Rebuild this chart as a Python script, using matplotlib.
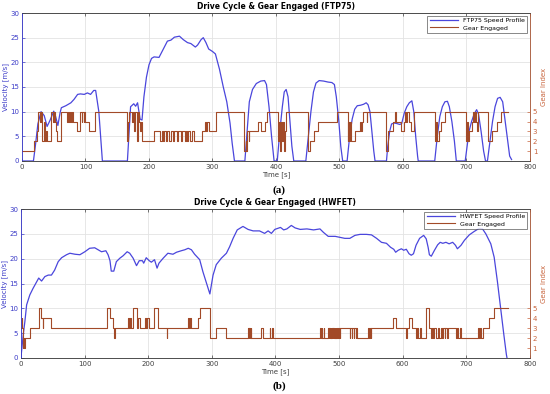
import matplotlib.pyplot as plt

# ---- FTP75 speed profile (time [s], velocity [m/s]) ----
ftp_time = [0, 18, 21, 25, 30, 35, 39.5, 44, 50, 53, 56.5, 60, 62, 69, 77, 82, 87.6, 92, 98, 103,
            108, 113, 116, 121, 126.6,
            166, 171, 176, 179, 182, 186, 189, 192, 196, 200, 204, 208, 215.8, 221, 229, 234.5,
            240, 248, 254, 260.6, 266, 273, 276.5, 282, 285.5, 289.7, 294, 300, 304.6, 311, 317,
            322.5, 327.6, 331, 334.6,
            351, 355, 358, 363, 369, 376, 382, 385, 389, 393, 397,
            402, 406, 410, 413, 416, 419, 422, 425, 428,
            447, 451, 455, 459, 463, 468, 475, 482, 488, 492, 495, 499, 502, 505,
            512, 516, 520, 524, 528, 533, 538, 542, 545, 548, 551, 554, 556,
            574, 576, 579, 582, 586, 590, 595, 598, 602, 606, 610, 614, 617, 620, 623, 624,
            650, 654, 658, 662, 666, 670, 673, 677, 681, 684,
            698, 701, 704, 708, 712, 716, 719, 723, 727, 730,
            733, 737, 741, 745, 749, 753, 757, 761, 765, 768, 771]
ftp_speed = [0, 0, 3, 7.5, 10, 9.2, 7, 8.2, 10.1, 9.0, 7.2, 9.8, 10.8, 11.2, 11.8, 12.5, 13.5, 13.6,
             13.5, 13.8, 13.5, 14.3, 14.3, 10, 0,
             0, 11, 11.6, 11.1, 11.8, 8.5, 8.3, 13, 17, 19.5, 20.8, 21.1, 21, 22.3, 24.3, 24.5,
             25.1, 25.3, 24.6, 24, 23.8, 23.1, 23.5, 24.6, 25, 24, 22.7, 22.2, 21.7, 18.6, 15,
             12, 7.7, 3.6, 0,
             0, 7, 12, 14.5, 15.7, 16.2, 16.3, 15.5, 11, 5, 0,
             0, 6, 11, 14, 14.5, 13, 8, 3, 0,
             0, 5, 10, 14, 15.8, 16.3, 16.2, 16.0, 15.9, 15.5, 13, 8, 3, 0,
             0, 5, 8.5, 10.5, 11.2, 11.3, 11.5, 11.8, 11.4, 10, 6, 2, 0,
             0, 3, 6, 7.5, 7.7, 7.6, 7.4, 7.6, 9.7, 11, 11.8, 12.2, 10, 5, 1, 0,
             0, 5, 9, 11, 12, 12.1, 11, 8, 4, 0,
             0, 3, 6, 8, 9.5, 10.4, 9.5, 6, 2, 0,
             0, 4, 8, 11, 12.7, 12.9, 12, 8, 4, 1, 0.3]

# ---- FTP75 gear engaged (step change time [s], gear index) ----
ftp_gear_time = [0, 19, 23, 25, 28, 30, 32, 34, 36, 38, 40, 46, 49, 50, 52, 53, 55, 62, 71, 72,
                 74, 75, 77, 78, 80, 86, 91, 94, 95, 97, 98, 100, 106, 115,
                 166, 167, 169, 174, 175, 177, 178, 181, 182, 184, 186, 187, 189,
                 208, 218, 220, 222, 224, 227, 229, 232, 234, 238, 240, 244, 246, 250, 252,
                 256, 258, 260, 262, 265, 267, 271, 284, 288, 290, 292, 294, 305,
                 350, 352, 353, 355, 357, 358, 371, 376, 382, 386,
                 403, 405, 406, 408, 409, 411, 412, 414, 416,
                 450, 454, 460, 466, 496, 513, 514, 515, 516, 518, 524, 532, 534, 535, 537,
                 543, 544, 574, 576, 584, 587, 589, 597, 601, 603, 605, 607, 609, 612, 618,
                 650, 652, 653, 656, 660, 666,
                 700, 701, 702, 704, 709, 710, 712, 713, 715, 716, 718,
                 734, 740, 748, 754, 766]
ftp_gear = [1, 2, 3, 5, 4, 5, 2, 4, 2, 3, 2, 5, 4, 5, 4, 3, 2, 5, 4, 5,
            4, 5, 4, 5, 4, 3, 5, 4, 5, 4, 5, 4, 3, 5,
            2, 4, 5, 4, 5, 3, 5, 2, 5, 4, 3, 4, 2,
            3, 2, 3, 2, 3, 2, 3, 2, 3, 2, 3, 2, 3, 2, 3,
            2, 3, 2, 3, 2, 3, 2, 3, 4, 3, 4, 3, 5,
            1, 2, 1, 3, 2, 3, 4, 3, 4, 5,
            2, 4, 1, 4, 2, 4, 1, 3, 5,
            1, 2, 3, 4, 5, 2, 4, 2, 4, 2, 3, 4, 3, 4, 5,
            4, 5, 1, 3, 4, 5, 4, 3, 4, 5, 4, 5, 4, 3, 5,
            2, 4, 2, 3, 4, 5,
            2, 4, 2, 3, 4, 5, 4, 5, 4, 3, 5,
            2, 3, 4, 5, 5]

# ---- HWFET speed profile ----
hw_time = [0, 3.7, 6.3, 9, 14, 19, 24.6, 28, 32.5, 37.7, 43, 48, 53, 58.6, 64, 71.7, 77, 85,
           92.7, 100.5, 108, 116, 121.5, 126.7, 133.5, 137, 140, 142, 146, 150, 155.5, 160.7,
           167, 171, 176.4, 181.7, 186, 191, 193, 197, 201.6, 205, 210, 214, 217, 223.6, 231,
           239, 244.5, 252, 257.6, 263, 268, 273, 281, 286, 291.6, 297, 302, 307, 315, 323, 328,
           333.5, 340, 349, 357, 365, 375, 383, 388.5, 393.7, 399, 408, 413, 418, 425, 431,
           439, 449.5, 460, 470, 475.5, 483, 494, 501.6, 509, 517, 525, 533, 543, 551, 559,
           566.7, 574.5, 581, 586, 589, 593, 598, 601.6, 605.7, 610, 613.5, 617, 621, 626.6,
           633, 637, 640, 642, 645, 650, 655, 659, 663, 668, 673, 678.6, 683, 686, 691.7, 697,
           704.7, 712.5, 720, 725.5, 730.7, 738.5, 743.8, 749, 754, 759, 763, 764]
hw_speed = [0, 4.7, 7.4, 10.7, 12.7, 14, 15.3, 16.1, 15.5, 16.4, 16.7, 16.7, 17.7, 19.4, 20.2,
            20.8, 21.1, 20.9, 20.8, 21.4, 22.1, 22.2, 21.8, 21.4, 21.6, 20.8, 19.6, 17.5, 17.5,
            19.4, 20.1, 20.6, 21.4, 21.1, 20.1, 18.6, 19.6, 19.6, 19.1, 20.2, 19.6, 19.3, 19.8,
            18.1, 19.1, 20.1, 21.1, 20.9, 21.3, 21.6, 21.8, 22.1, 21.8, 20.9, 19.8, 17.4, 15.1,
            12.9, 16.7, 18.8, 20.1, 21.1, 22.4, 24.1, 25.8, 26.5, 25.9, 25.6, 25.6, 25.1, 25.6,
            25.1, 25.9, 26.3, 25.8, 26, 26.7, 26.2, 25.9, 26, 25.8, 26, 25.3, 24.5, 24.5, 24.3,
            24.1, 24.1, 24.7, 24.9, 24.9, 24.8, 24.1, 23.3, 23.1, 22.3, 21.9, 21.3, 21.7, 22,
            21.7, 21.9, 21, 20.7, 21, 22.7, 24.1, 24.7, 24, 22.3, 20.8, 20.5, 21.7, 22.8, 23.3,
            23.1, 23.3, 23, 23.3, 22.7, 22, 22.7, 23.7, 24.8, 25.5, 26.1, 26, 25, 23, 20.3, 15.3,
            10, 4.7, 0.7, 0]

# ---- HWFET gear engaged ----
hw_gear_time = [0, 1, 2, 3, 4, 5, 7, 15, 28, 32, 34, 35, 48, 134.6, 140, 145, 147, 148,
                169, 170, 172, 173, 176, 183, 184, 187, 195, 197, 198, 201, 209, 216, 229, 230,
                263, 264, 266, 268, 278, 281, 297, 306, 323,
                357, 358, 359, 360, 361, 362, 378, 380, 391, 392, 394, 396,
                470, 471, 473, 474, 476, 477, 483, 484, 485, 486, 487, 488, 489, 490, 491,
                492, 493, 494, 495, 496, 497, 498, 500, 501, 502, 504, 517, 518, 520, 521,
                523, 524, 526, 527, 529, 546, 547, 549, 550, 551, 585, 589, 606, 607, 610,
                615, 621, 623, 624, 628, 629, 637, 642, 644, 646, 648, 650, 653, 655, 657,
                660, 662, 664, 666, 667, 669, 671, 673, 684, 686, 687, 690, 691, 694, 719,
                720, 722, 723, 725.5, 736, 744, 766]
hw_gear = [3, 4, 3, 1, 2, 1, 2, 3, 5, 4, 3, 4, 3, 5, 4, 3, 2, 3,
           4, 3, 4, 3, 5, 3, 4, 3, 4, 3, 4, 3, 5, 3, 2, 3,
           4, 3, 4, 3, 4, 5, 2, 3, 2,
           3, 2, 3, 2, 3, 2, 3, 2, 3, 2, 3, 2,
           3, 2, 3, 2, 3, 2, 3, 2, 3, 2, 3, 2, 3, 2, 3,
           2, 3, 2, 3, 2, 3, 2, 3, 2, 3, 3, 2, 3, 2, 3,
           2, 3, 2, 3, 2, 3, 2, 3, 2, 3, 4, 3, 2, 3, 4,
           3, 2, 3, 2, 3, 2, 5, 3, 2, 3, 2, 3, 2, 3, 2,
           3, 2, 3, 2, 3, 2, 3, 3, 2, 3, 2, 3, 2, 2, 3,
           2, 3, 2, 3, 4, 5, 5]

BLUE = '#4a46dc'
GEAR = '#a24a28'
RIGHT = '#c8643c'
LEFTC = '#3c3cc8'


def draw_panel(ax, title, t, v, gt, g, label):
    ax.plot(t, v, color=BLUE, lw=0.9, label=label)
    ax.set_xlim(0, 800)
    ax.set_ylim(0, 30)
    ax.set_xticks(range(0, 801, 100))
    ax.set_yticks(range(0, 31, 5))
    ax.grid(True, color='#e3e3e3', lw=0.6)
    ax.set_axisbelow(True)
    ax.tick_params(axis='x', direction='in', top=True, labelsize=5, colors='#404040',
                   length=2.5, width=0.5, pad=2)
    ax.tick_params(axis='y', direction='in', labelsize=5, colors=LEFTC,
                   length=2.5, width=0.5, pad=2)
    ax.set_ylabel('Velocity [m/s]', fontsize=5, color=LEFTC, labelpad=1)
    ax.set_xlabel('Time [s]', fontsize=5, color='#404040', labelpad=1)
    ax.set_title(title, fontsize=5.5, fontweight='bold', pad=3)
    for s in ax.spines.values():
        s.set_linewidth(0.5)
        s.set_color('#404040')
    ax.spines['left'].set_color(LEFTC)

    ax2 = ax.twinx()
    ax2.step(gt, g, where='post', color=GEAR, lw=0.8, label='Gear Engaged')
    ax2.set_ylim(0, 15)
    ax2.set_yticks([1, 2, 3, 4, 5])
    ax2.tick_params(axis='y', direction='in', labelsize=5, colors=RIGHT,
                    length=2.5, width=0.5, pad=2)
    ax2.set_ylabel('Gear Index', fontsize=5, color=RIGHT, labelpad=3)
    for s in ax2.spines.values():
        s.set_linewidth(0.5)
        s.set_color('#404040')
    ax2.spines['right'].set_color(RIGHT)
    ax2.spines['left'].set_color(LEFTC)

    h1, l1 = ax.get_legend_handles_labels()
    h2, l2 = ax2.get_legend_handles_labels()
    leg = ax2.legend(h1 + h2, l1 + l2, loc='upper right', fontsize=4.5, fancybox=False,
                     edgecolor='#303030', borderaxespad=0.4, handlelength=4.5,
                     borderpad=0.4, labelspacing=0.3)
    leg.get_frame().set_linewidth(0.5)


fig = plt.figure(figsize=(5.5, 3.94), dpi=100)
ax_a = fig.add_axes([0.040, 0.5914, 0.9236, 0.3756])
ax_b = fig.add_axes([0.038, 0.0914, 0.9255, 0.378])

draw_panel(ax_a, 'Drive Cycle & Gear Engaged (FTP75)', ftp_time, ftp_speed,
           ftp_gear_time, ftp_gear, 'FTP75 Speed Profile')
draw_panel(ax_b, 'Drive Cycle & Gear Engaged (HWFET)', hw_time, hw_speed,
           hw_gear_time, hw_gear, 'HWFET Speed Profile')

fig.text(0.507, 0.518, '(a)', ha='center', va='center', fontsize=8,
         fontweight='bold', family='Liberation Serif')
fig.text(0.507, 0.020, '(b)', ha='center', va='center', fontsize=8,
         fontweight='bold', family='Liberation Serif')

fig.savefig('out.png', dpi=100)
